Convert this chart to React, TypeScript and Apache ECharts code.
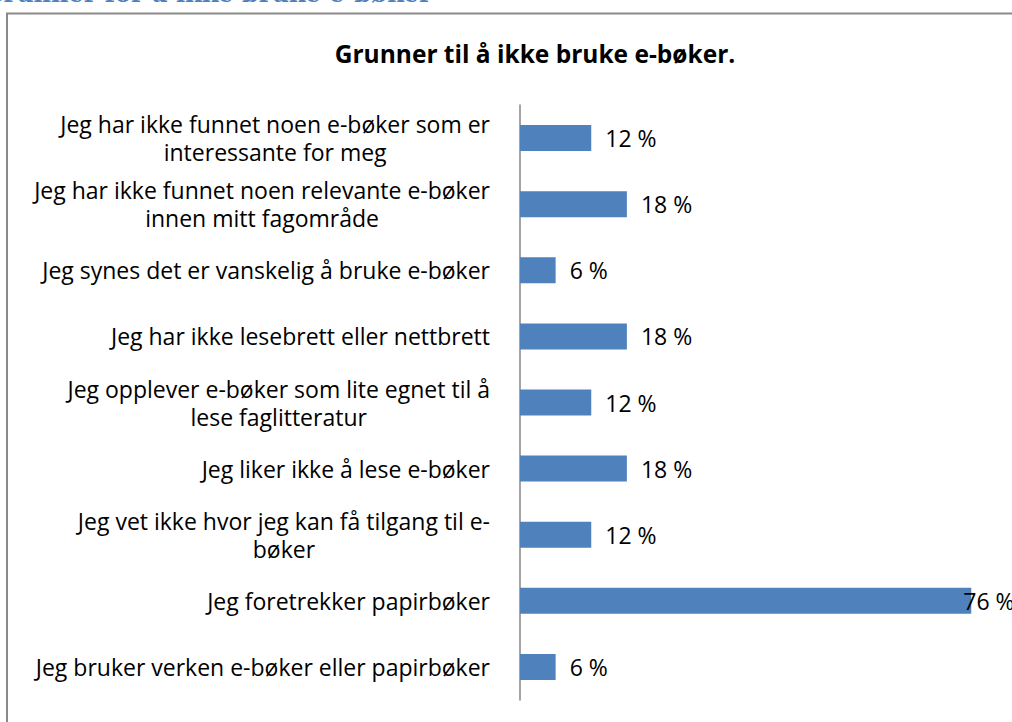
import React, { useEffect, useRef } from "react";
import * as echarts from "echarts";

const categories: string[] = [
  "Jeg har ikke funnet noen e-bøker som er\ninteressante for meg",
  "Jeg har ikke funnet noen relevante e-bøker\ninnen mitt fagområde",
  "Jeg synes det er vanskelig å bruke e-bøker",
  "Jeg har ikke lesebrett eller nettbrett",
  "Jeg opplever e-bøker som lite egnet til å\nlese faglitteratur",
  "Jeg liker ikke å lese e-bøker",
  "Jeg vet ikke hvor jeg kan få tilgang til e-\nbøker",
  "Jeg foretrekker papirbøker",
  "Jeg bruker verken e-bøker eller papirbøker",
];

const values: number[] = [12, 18, 6, 18, 12, 18, 12, 76, 6];

const chartTitle = "Grunner til å ikke bruke e-bøker.";
const headingText = "Grunner for å ikke bruke e-bøker";

const FONT = "Open Sans";

export default function App() {
  const ref = useRef<HTMLDivElement>(null);

  useEffect(() => {
    if (!ref.current) return;
    const chart = echarts.init(ref.current, undefined, { renderer: "svg" });
    const seriesData = values.map((v) =>
      v > 50 ? { value: v, label: { offset: [-22, 0] } } : { value: v }
    );
    chart.setOption({
      animation: false,
      backgroundColor: "#ffffff",
      title: {
        text: chartTitle,
        left: 530,
        top: 36,
        textAlign: "center",
        textStyle: {
          fontFamily: FONT,
          fontWeight: "bold",
          fontSize: 24.5,
          color: "#000000",
        },
      },
      graphic: [
        {
          type: "rect",
          shape: { x: 7, y: 13.5, width: 1200, height: 900 },
          style: { fill: "none", stroke: "#8a8a8a", lineWidth: 2 },
          silent: true,
        },
        {
          type: "text",
          x: -17,
          y: 5,
          style: {
            text: headingText,
            font: 'bold 24px "DejaVu Serif"',
            fill: "#4F81BD",
            textVerticalAlign: "bottom",
          },
          silent: true,
        },
      ],
      grid: {
        left: 520,
        top: 105,
        width: 475,
        height: 595,
        containLabel: false,
      },
      xAxis: {
        type: "value",
        min: 0,
        max: 80,
        show: false,
      },
      yAxis: {
        type: "category",
        data: categories,
        inverse: true,
        axisLine: { show: true, lineStyle: { color: "#868686", width: 1.5 } },
        axisTick: { show: false },
        splitLine: { show: false },
        axisLabel: {
          interval: 0,
          margin: 30,
          align: "right",
          formatter: (v: string) =>
            v
              .split("\n")
              .map((l) => "{c|" + l + "}")
              .join("\n"),
          rich: {
            c: {
              fontFamily: FONT,
              fontSize: 23,
              lineHeight: 28,
              color: "#000000",
              align: "center",
            },
          },
        },
      },
      series: [
        {
          type: "bar",
          data: seriesData,
          barWidth: 26,
          itemStyle: { color: "#4F81BD" },
          label: {
            show: true,
            position: "right",
            distance: 14,
            formatter: "{c} %",
            fontFamily: FONT,
            fontSize: 23,
            color: "#000000",
          },
        },
      ],
    });
    return () => chart.dispose();
  }, []);

  return (
    <div
      ref={ref}
      style={{ position: "fixed", left: 0, top: 0, width: 1012, height: 722 }}
    />
  );
}
